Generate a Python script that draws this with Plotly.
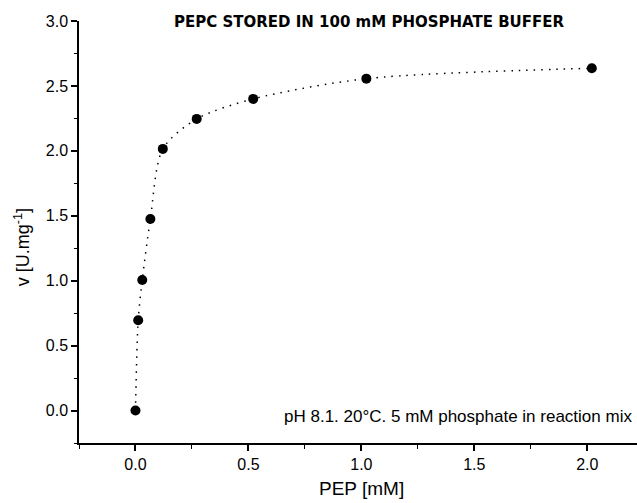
import plotly.graph_objects as go

pep_mM = [0.0, 0.012, 0.03, 0.066, 0.121, 0.271, 0.521, 1.022, 2.02]
v_U_mg = [0.0, 0.695, 1.005, 1.475, 2.015, 2.246, 2.40, 2.556, 2.636]

title_text = "PEPC STORED IN 100 mM PHOSPHATE BUFFER"
note_text = "pH 8.1. 20°C. 5 mM phosphate in reaction mix"
x_title = "PEP [mM]"
y_title = "v [U.mg<sup>-1</sup>]"
x_ticks = [0.0, 0.5, 1.0, 1.5, 2.0]
y_ticks = [0.0, 0.5, 1.0, 1.5, 2.0, 2.5, 3.0]

FONT = "Liberation Sans, Arial, Helvetica, sans-serif"

fig = go.Figure()
fig.add_trace(go.Scatter(
    x=pep_mM, y=v_U_mg, mode="lines",
    line=dict(color="black", width=1.5, dash="1.5px,6px", shape="spline", smoothing=0.8),
    hoverinfo="skip", showlegend=False))
fig.add_trace(go.Scatter(
    x=pep_mM, y=v_U_mg, mode="markers",
    marker=dict(color="black", size=10), showlegend=False))

fig.update_layout(
    width=637, height=503,
    margin=dict(l=79, r=0, t=21, b=60),
    paper_bgcolor="white", plot_bgcolor="white",
    font=dict(family=FONT, color="black", size=16),
    xaxis=dict(range=[-0.25, 2.22], tickvals=x_ticks, ticktext=[f"{v:.1f}" for v in x_ticks],
               showgrid=False, zeroline=False, showline=True, linecolor="black", linewidth=1.5,
               ticks="outside", ticklen=6, tickwidth=1.5, tickcolor="black",
               minor=dict(dtick=0.25, tick0=0, ticks="outside", ticklen=4, tickwidth=1, tickcolor="black"),
               tickfont=dict(size=16)),
    yaxis=dict(range=[-0.25, 3.0], tickvals=y_ticks, ticktext=[f"{v:.1f}" for v in y_ticks],
               showgrid=False, zeroline=False, showline=True, linecolor="black", linewidth=1.5,
               ticks="outside", ticklen=6, tickwidth=1.5, tickcolor="black",
               minor=dict(dtick=0.25, tick0=0, ticks="outside", ticklen=3, tickwidth=1, tickcolor="black"),
               tickfont=dict(size=16)),
    annotations=[
        dict(text=f"<b>{title_text}</b>", xref="paper", yref="paper", x=0.52, y=0.998,
             xanchor="center", yanchor="middle", showarrow=False,
             font=dict(size=15, family="DejaVu Sans, Liberation Sans, sans-serif")),
        dict(text=note_text, xref="paper", yref="paper", x=0.995, y=0.062,
             xanchor="right", yanchor="middle", showarrow=False, font=dict(size=17)),
        dict(text=x_title, xref="paper", yref="paper", x=0.507, y=-0.107,
             xanchor="center", yanchor="middle", showarrow=False, font=dict(size=19)),
        dict(text=y_title, xref="paper", yref="paper", x=-0.102, y=0.464, textangle=-90,
             xanchor="center", yanchor="middle", showarrow=False, font=dict(size=18)),
    ],
)

fig.write_html("out.html")
